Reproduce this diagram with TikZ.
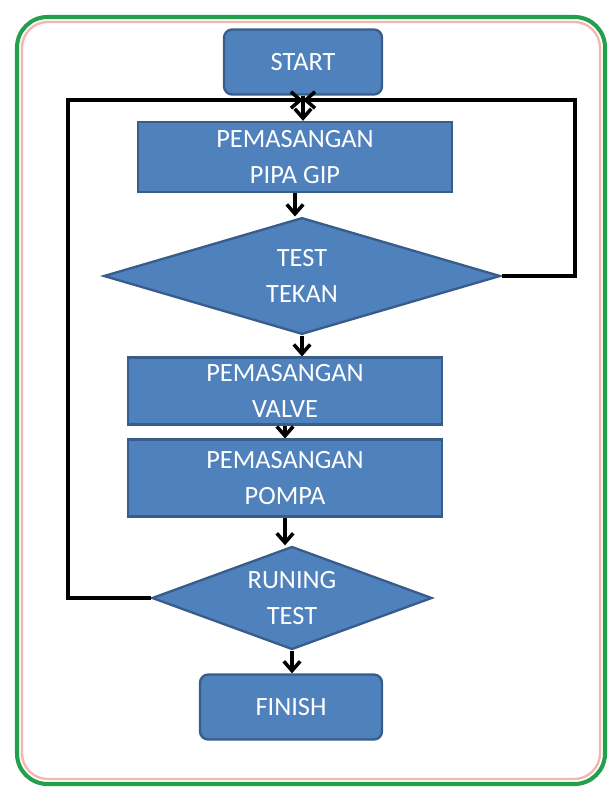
\documentclass[tikz,border=0pt]{standalone}
\usepackage{fontspec}
\setmainfont{Carlito}
\usetikzlibrary{shapes.geometric,arrows.meta}
\definecolor{boxblue}{HTML}{4F81BD}
\definecolor{boxedge}{HTML}{385D8A}
\definecolor{framegreen}{HTML}{22A04B}
\definecolor{framepink}{HTML}{F2B8B0}
\begin{document}
\begin{tikzpicture}[x=0.03cm,y=-0.03cm,>={Straight Barb[length=8pt,width=14pt]}]
                  \tikzset{
                      proses/.style={rectangle,fill=boxblue,draw=boxedge,line width=2pt,text=white,
                          align=center,inner sep=0pt,font=\fontsize{22.5}{30}\selectfont},
                      ujung/.style={proses,rounded corners=7pt},
                      cek/.style={diamond,aspect=3.4,fill=boxblue,draw=boxedge,line width=2pt,text=white,
                          align=center,inner sep=0pt,font=\fontsize{22.5}{30}\selectfont},
                      alur/.style={line width=3pt,black}
                  }
                  \useasboundingbox (0,0) rectangle (609,787);
                  % bingkai
                  \draw[framegreen,line width=3.5pt,rounded corners=26pt](17,17) rectangle (605,784);
                  \draw[framepink,line width=2pt,rounded corners=22pt](22,22) rectangle (600,779);
                  \node[ujung,minimum width=4.74cm,minimum height=1.95cm] (start) at (303,62) {START};
                  \node[proses,minimum width=9.42cm,minimum height=2.1cm] (pipa) at (295,157) {PEMASANGAN\\PIPA GIP};
                  \node[cek,minimum width=11.9cm,minimum height=3.5cm] (tekan) at (302,276) {TEST\\TEKAN};
                  \node[proses,minimum width=9.42cm,minimum height=2.0cm] (valve) at (285,391) {PEMASANGAN\\VALVE};
                  \node[proses,minimum width=9.42cm,minimum height=2.3cm] (pompa) at (285,478) {PEMASANGAN\\POMPA};
                  \node[cek,minimum width=8.4cm,minimum height=3.09cm] (runing) at (292,598) {RUNING\\TEST};
                  \node[ujung,minimum width=5.46cm,minimum height=1.95cm] (finish) at (291,707) {FINISH};
                  \coordinate (j) at (start.south |- 0,100);
                  \draw[alur,->](start.south)--(start.south |- pipa.north);
                  \draw[alur,->](pipa.south)--(pipa.south |- tekan.north);
                  \draw[alur,->](tekan.south)--(tekan.south |- valve.north);
                  \draw[alur,->](valve.south)--(valve.south |- pompa.north);
                  \draw[alur,->](pompa.south)--(pompa.south |- runing.north);
                  \draw[alur,->](runing.south)--(runing.south |- finish.north);
                  % balik ke atas
                  \draw[alur,->](tekan.east)--(575,0 |- tekan.east)--(575,100)--(j);
                  \draw[alur,->](runing.west)--(68,0 |- runing.west)--(68,100)--(j);
              \end{tikzpicture}
\end{document}
